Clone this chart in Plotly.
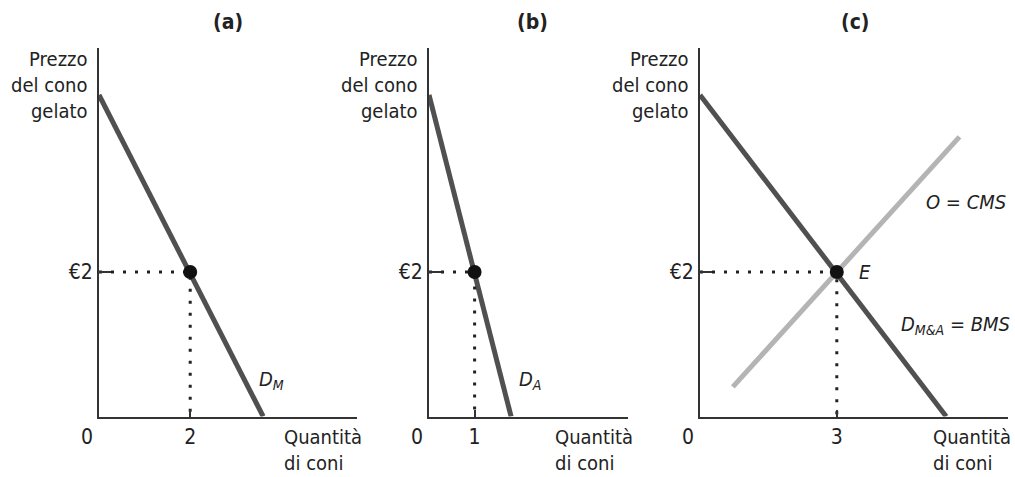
import plotly.graph_objects as go

W, H = 1015, 477

# ---- data: individual and market demand for ice-cream cones ----
price_max = 4.45            # price at which demand falls to zero
demand_m_q = [0, 3.6]       # Marco
demand_m_p = [price_max, 0]
demand_a_q = [0, 1.8]       # Alice
demand_a_p = [price_max, 0]
demand_ma_q = [0, 5.4]      # market demand (Marco & Alice)
demand_ma_p = [price_max, 0]
supply_q = [0.72, 5.69]     # supply = social marginal cost
supply_p = [0.41, 3.87]

eq_price = 2
eq_qty = [2, 1, 3]
qty_ticktext = ["2", "1", "3"]
price_ticktext = ["€2"]
titles = ["(a)", "(b)", "(c)"]

FONT = "Liberation Sans Narrow, DejaVu Sans Condensed, Arial Narrow, sans-serif"
AX = "#333333"
DEM = "#505050"
SUP = "#b4b4b4"
FS = 20

# pixel frame of each panel (left, right) and common top/bottom
panels = [(99, 357), (429, 628), (700, 1008)]
top_px, bottom_px = 48, 416.5
PX_Q, PX_P = 45.6, 72.25    # pixels per cone, pixels per euro


def fx(px):
    return px / W


def fy(px):
    return 1 - px / H


fig = go.Figure()

demands = [(demand_m_q, demand_m_p), (demand_a_q, demand_a_p), (demand_ma_q, demand_ma_p)]

for i, ((l, r), (dq, dp)) in enumerate(zip(panels, demands)):
    n = "" if i == 0 else str(i + 1)
    xa, ya = "x" + n, "y" + n
    # demand curve
    fig.add_trace(go.Scatter(x=dq, y=dp, mode="lines", xaxis=xa, yaxis=ya,
                             line=dict(color=DEM, width=5), hoverinfo="skip"))
    if i == 2:
        fig.add_trace(go.Scatter(x=supply_q, y=supply_p, mode="lines", xaxis=xa, yaxis=ya,
                                 line=dict(color=SUP, width=5), hoverinfo="skip"))
    # dotted guides to the axes
    q = eq_qty[i]
    fig.add_trace(go.Scatter(x=[0, q, q], y=[eq_price, eq_price, 0], mode="lines",
                             xaxis=xa, yaxis=ya,
                             line=dict(color="#222222", width=3, dash="3px,9px"),
                             hoverinfo="skip"))
    # point on the curve
    fig.add_trace(go.Scatter(x=[q], y=[eq_price], mode="markers", xaxis=xa, yaxis=ya,
                             marker=dict(color="#111111", size=14), hoverinfo="skip"))

    axis_common = dict(showline=True, linecolor=AX, linewidth=2, showgrid=False,
                       zeroline=False, ticks="inside", tickcolor=AX, tickwidth=2,
                       tickfont=dict(family=FONT, size=FS + 1, color="#222222"),
                       fixedrange=True)
    fig.layout["xaxis" + n] = dict(
        axis_common, domain=[fx(l), fx(r)], range=[0, (r - l) / PX_Q],
        tickvals=[q], ticktext=[qty_ticktext[i]], ticklen=7, anchor=ya)
    fig.layout["yaxis" + n] = dict(
        axis_common, domain=[fy(bottom_px), fy(top_px)],
        range=[0, (bottom_px - top_px) / PX_P],
        tickvals=[eq_price], ticktext=price_ticktext, ticklen=12, anchor=xa)

annotations = []


def txt(text, x, y, xanchor="center", align="center", size=FS, **kw):
    annotations.append(dict(text=text, x=fx(x), y=fy(y), xref="paper", yref="paper",
                            xanchor=xanchor, yanchor="middle", align=align,
                            showarrow=False,
                            font=dict(family=FONT, size=size, color="#222222"), **kw))


for (l, r), title, tx in zip(panels, titles, [228, 532, 855]):
    txt("<b>" + title + "</b>", tx, 22, size=FS + 1)
    txt("Prezzo<br>del cono<br>gelato", l - 9, 85, xanchor="right", align="right")
    txt("0", l - 12, 437, size=FS + 1)

for qx in [282, 553, 931]:
    txt("Quantità<br>di coni", qx, 450, xanchor="left", align="left")

txt("<i>D<sub>M</sub></i>", 257, 380, xanchor="left")
txt("<i>D<sub>A</sub></i>", 517, 380, xanchor="left")
txt("<i>E</i>", 857, 272, xanchor="left")
txt("<i>O = CMS</i>", 924, 202, xanchor="left")
txt("<i>D<sub>M&amp;A</sub> = BMS</i>", 899, 325, xanchor="left")

fig.update_layout(width=W, height=H, margin=dict(l=0, r=0, t=0, b=0),
                  paper_bgcolor="white", plot_bgcolor="white", showlegend=False,
                  annotations=annotations)

fig.write_html("out.html", config={"displayModeBar": False})
